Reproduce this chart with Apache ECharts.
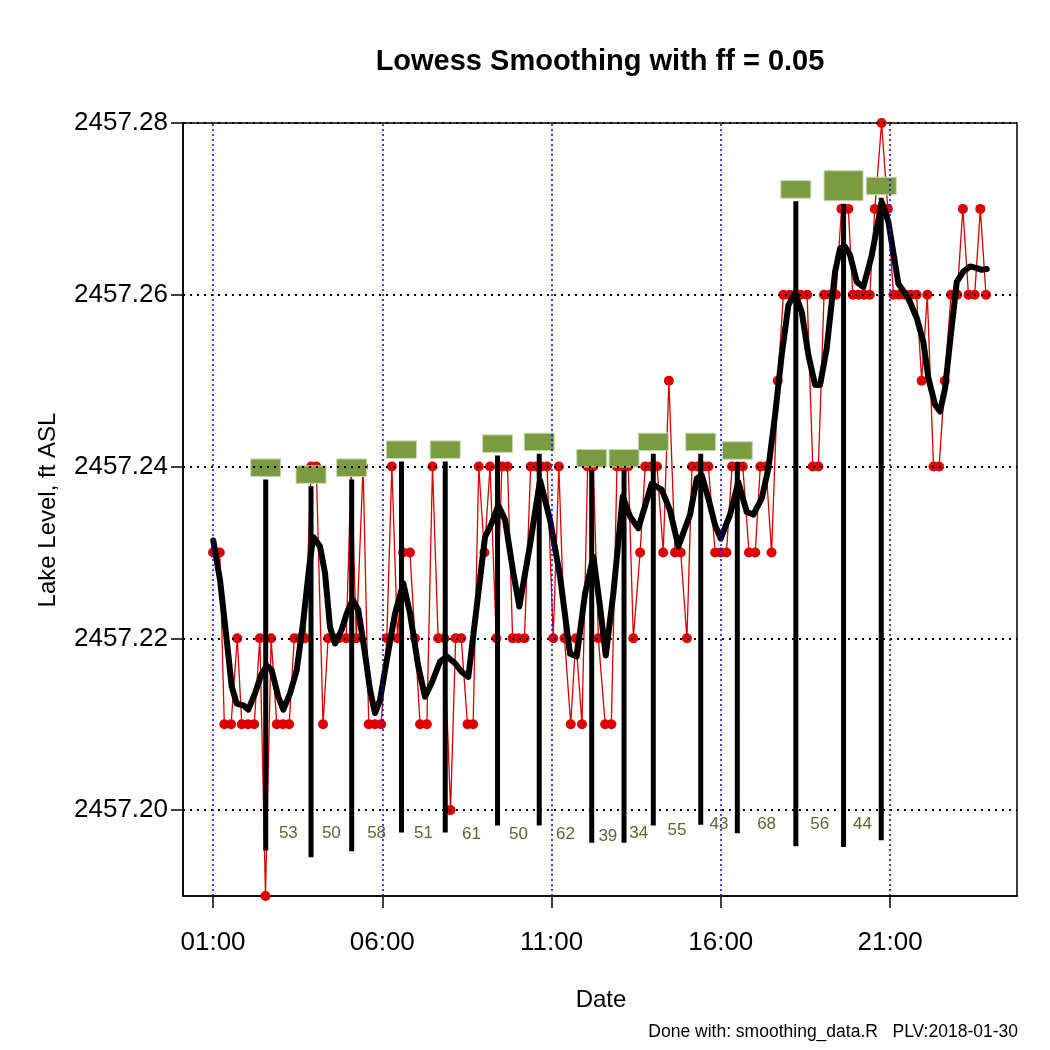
<!DOCTYPE html>
<html><head><meta charset="utf-8">
<script src="https://cdn.jsdelivr.net/npm/echarts@6/dist/echarts.min.js"></script>
<style>html,body{margin:0;padding:0;background:#fff}#c{width:1050px;height:1050px}</style>
</head><body><div id="c"></div>
<script>
// ---- data (times in minutes after midnight) ----
const times = [60,72,80,92,103,111,122,133,143,153,
163,173,184,195,204,214,223,234,243,255,
264,274,283,296,305,314,326,336,347,358,
368,377,387,397,409,418,427,439,449,459,
470,481,490,500,511,521,531,541,551,562,
572,582,591,601,612,623,633,642,652,663,
673,683,694,703,714,724,734,743,755,766,
776,786,796,805,817,826,836,847,858,868,
879,889,900,909,919,929,938,950,960,970,
980,990,999,1010,1021,1030,1040,1050,1061,1071,
1082,1092,1101,1113,1123,1133,1143,1154,1164,1174,
1186,1194,1204,1214,1224,1233,1245,1256,1266,1276,
1287,1297,1307,1316,1326,1337,1347,1357,1368,1379,
1389,1399,1410,1420,1430];
const levels = [2457.23,2457.23,2457.21,2457.21,2457.22,2457.21,2457.21,2457.21,2457.22,2457.19,
2457.22,2457.21,2457.21,2457.21,2457.22,2457.22,2457.22,2457.24,2457.24,2457.21,
2457.22,2457.22,2457.22,2457.22,2457.24,2457.22,2457.24,2457.21,2457.21,2457.21,
2457.22,2457.24,2457.22,2457.23,2457.23,2457.22,2457.21,2457.21,2457.24,2457.22,
2457.22,2457.20,2457.22,2457.22,2457.21,2457.21,2457.24,2457.23,2457.24,2457.22,
2457.24,2457.24,2457.22,2457.22,2457.22,2457.24,2457.24,2457.24,2457.24,2457.22,
2457.24,2457.22,2457.21,2457.22,2457.21,2457.24,2457.24,2457.22,2457.21,2457.21,
2457.24,2457.24,2457.24,2457.22,2457.23,2457.24,2457.24,2457.24,2457.23,2457.25,
2457.23,2457.23,2457.22,2457.24,2457.24,2457.24,2457.24,2457.23,2457.23,2457.23,
2457.24,2457.24,2457.24,2457.23,2457.23,2457.24,2457.24,2457.23,2457.25,2457.26,
2457.26,2457.26,2457.26,2457.26,2457.24,2457.24,2457.26,2457.26,2457.26,2457.27,
2457.27,2457.26,2457.26,2457.26,2457.26,2457.27,2457.28,2457.27,2457.26,2457.26,
2457.26,2457.26,2457.26,2457.25,2457.26,2457.24,2457.24,2457.25,2457.26,2457.26,
2457.27,2457.26,2457.26,2457.27,2457.26];

const smoothTimes = [60.5,72.4,84.3,93.1,102,113.7,122.6,134.4,146.3,155.2,
164,175.7,184.6,196.5,208.4,220.1,231.9,237.8,249.7,258.5,
267.4,276.3,288.1,297,307.6,317.5,329.4,338.3,347.1,356,
364.9,382.6,397.3,409.2,423.9,435.8,447.6,462.4,474.2,488.9,
500.8,512.5,527.4,542.1,554,565.7,577.6,592.3,602.9,621.9,
639.6,657.3,675.1,692.8,704.7,719.4,734.1,746,756.1,769.5,
786.2,799.1,813.8,837.6,855.3,870,884.8,905.5,917.4,926.2,
937.9,949.8,959.9,976.4,991.1,1006,1017.7,1032.6,1044.3,1056.2,
1068,1079.8,1091.6,1103.5,1115.2,1127.1,1136,1147.8,1156.7,1162.6,
1171.4,1180.3,1189.2,1201,1212.7,1227.6,1245.3,1257,1274.7,1292.4,
1307.3,1319,1327.9,1339.8,1348.6,1357.5,1366.3,1378.2,1389.9,1401.8,
1413.7,1422.5,1431.4];
const smoothLevels = [2457.2314,2457.2268,2457.2198,2457.2144,2457.2124,2457.2122,2457.2117,2457.2136,2457.2159,2457.2168,
2457.2163,2457.2132,2457.2117,2457.2136,2457.2163,2457.2221,2457.2291,2457.2318,2457.2307,2457.2276,
2457.2213,2457.2194,2457.2210,2457.2229,2457.2245,2457.2233,2457.2182,2457.2140,2457.2113,2457.2128,
2457.2163,2457.2229,2457.2264,2457.2229,2457.2167,2457.2132,2457.2148,2457.2173,2457.2179,2457.2171,
2457.2161,2457.2155,2457.2237,2457.2318,2457.2334,2457.2355,2457.2338,2457.2276,2457.2237,2457.2309,
2457.2384,2457.2338,2457.2272,2457.2182,2457.2179,2457.2252,2457.2295,2457.2237,2457.2180,2457.2252,
2457.2365,2457.2342,2457.2328,2457.2380,2457.2373,2457.2349,2457.2307,2457.2344,2457.2386,2457.2390,
2457.2363,2457.2332,2457.2316,2457.2344,2457.2382,2457.2347,2457.2344,2457.2363,2457.2398,2457.2460,
2457.2530,2457.2588,2457.2602,2457.2580,2457.2530,2457.2495,2457.2495,2457.2538,2457.2592,2457.2627,
2457.2654,2457.2656,2457.2646,2457.2615,2457.2609,2457.2646,2457.2708,2457.2685,2457.2613,2457.2596,
2457.2573,2457.2545,2457.2503,2457.2472,2457.2464,2457.2491,2457.2545,2457.2615,2457.2627,2457.2633,
2457.2631,2457.2629,2457.2630];

const eventTimes = [153.4,233.7,305.8,394.1,471.6,564.3,638.2,731.2,788.5,840.4,924.4,989.3,1093.0,1177.6,1244.4];
const eventTop = [2457.2385,2457.2377,2457.2385,2457.2406,2457.2406,2457.2413,2457.2415,2457.2396,2457.2396,2457.2415,2457.2415,2457.2405,2457.2709,2457.2706,2457.2713];
const eventBottom = [2457.1953,2457.1945,2457.1952,2457.1974,2457.1974,2457.1982,2457.1982,2457.1962,2457.1962,2457.1982,2457.1983,2457.1973,2457.1958,2457.1957,2457.1965];
const gapLabels = [53,50,58,51,61,50,62,39,34,55,43,68,56,44];
const gapLabelLevels = [2457.1973,2457.1973,2457.1973,2457.1973,2457.1972,2457.1972,2457.1972,2457.1970,2457.1973,2457.1976,2457.1983,2457.1984,2457.1984,2457.1983];

const xTicks = [60,360,660,960,1260];
const yTicks = [2457.20,2457.22,2457.24,2457.26,2457.28];

// ---- styles ----
const FONT = "'Liberation Sans', Arial, Helvetica, sans-serif";
const RED = '#DD0000';
const BOX_FILL = '#7A9B40';
const BOX_STROKE = '#C9D7B2';
const LABEL_COLOR = '#556B2F';
const boxSize = i => (i === 13 ? [39, 30] : [30, 17.5]);

const fmtTime = m => {
  const h = Math.floor(m / 60), mm = Math.round(m - h * 60);
  return String(h).padStart(2, '0') + ':' + String(mm).padStart(2, '0');
};

const chart = echarts.init(document.getElementById('c'), null, {renderer: 'canvas'});

const rawData = times.map((t, i) => [t, levels[i]]);
const smoothData = smoothTimes.map((t, i) => [t, smoothLevels[i]]);
const eventData = eventTimes.map((t, i) => [t, eventTop[i], eventBottom[i]]);
const labelData = gapLabels.map((v, i) => [(eventTimes[i] + eventTimes[i + 1]) / 2, gapLabelLevels[i], v]);

chart.setOption({
  animation: false,
  backgroundColor: '#fff',
  grid: {left: 183, top: 123, width: 834, height: 773, show: true, borderColor: '#000', borderWidth: 1.5, backgroundColor: 'transparent'},
  xAxis: {
    type: 'value', min: 6.8, max: 1485,
    axisLine: {show: true, onZero: false, lineStyle: {color: '#000', width: 1.5}},
    axisTick: {show: true, customValues: xTicks, length: 12, lineStyle: {color: '#000', width: 1.5}},
    axisLabel: {customValues: xTicks, formatter: v => fmtTime(v), fontSize: 26, color: '#000', margin: 34, fontFamily: FONT},
    splitLine: {show: false}
  },
  yAxis: {
    type: 'value', min: 2457.19, max: 2457.28,
    axisLine: {show: true, onZero: false, lineStyle: {color: '#000', width: 1.5}},
    axisTick: {show: true, customValues: yTicks, length: 12, lineStyle: {color: '#000', width: 1.5}},
    axisLabel: {customValues: yTicks, formatter: v => v.toFixed(2), fontSize: 26, color: '#000', margin: 15, fontFamily: FONT},
    splitLine: {show: false}
  },
  graphic: [
    {type: 'text', style: {text: 'Lowess Smoothing with ff = 0.05', x: 600, y: 62, align: 'center', verticalAlign: 'middle', font: 'bold 29px ' + FONT, fill: '#000'}},
    {type: 'text', style: {text: 'Date', x: 601, y: 1000, align: 'center', verticalAlign: 'middle', font: '24px ' + FONT, fill: '#000'}},
    {type: 'text', rotation: Math.PI / 2, x: 48, y: 510, style: {text: 'Lake Level, ft ASL', x: 0, y: 0, align: 'center', verticalAlign: 'middle', font: '24px ' + FONT, fill: '#000'}},
    {type: 'text', style: {text: 'Done with: smoothing_data.R   PLV:2018-01-30', x: 1018, y: 1032, align: 'right', verticalAlign: 'middle', font: '17.5px ' + FONT, fill: '#000'}}
  ],
  series: [
    {
      type: 'line', data: [], z: 1, silent: true,
      markLine: {
        silent: true, symbol: ['none', 'none'], label: {show: false}, animation: false,
        data: yTicks.map(v => ({yAxis: v, lineStyle: {color: '#000', type: [2, 5], width: 2}}))
          .concat(xTicks.map(v => ({xAxis: v, lineStyle: {color: '#0000FF', type: [2, 3], width: 1.5}})))
      }
    },
    {
      type: 'line', data: rawData, z: 2, symbol: 'circle', symbolSize: 10,
      lineStyle: {color: RED, width: 1.3}, itemStyle: {color: RED}
    },
    {
      type: 'line', data: smoothData, z: 3, symbol: 'none', smooth: false,
      lineStyle: {color: '#000', width: 6, join: 'round', cap: 'round'}
    },
    {
      type: 'custom', z: 4, data: eventData,
      renderItem: (params, api) => {
        const i = params.dataIndex;
        const pTop = api.coord([api.value(0), api.value(1)]);
        const pBot = api.coord([api.value(0), api.value(2)]);
        const [w, h] = boxSize(i);
        return {type: 'group', children: [
          {type: 'line', shape: {x1: pTop[0], y1: pTop[1], x2: pBot[0], y2: pBot[1]}, style: {stroke: '#000', lineWidth: 5}},
          {type: 'rect', shape: {x: pTop[0] - w / 2, y: pTop[1] - 3 - h, width: w, height: h}, style: {fill: BOX_FILL, stroke: BOX_STROKE, lineWidth: 1}}
        ]};
      }
    },
    {
      type: 'custom', z: 5, data: labelData,
      renderItem: (params, api) => {
        const p = api.coord([api.value(0), api.value(1)]);
        return {type: 'text', style: {text: String(api.value(2)), x: p[0], y: p[1], align: 'center', verticalAlign: 'middle', font: '17px ' + FONT, fill: LABEL_COLOR}};
      }
    }
  ]
});
</script>
</body></html>
